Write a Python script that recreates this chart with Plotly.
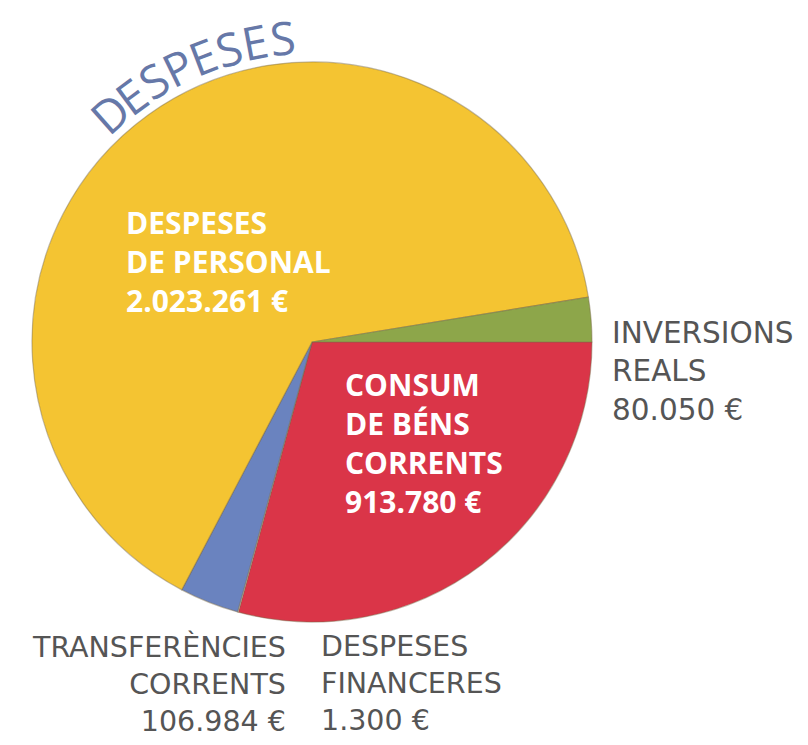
import math
import plotly.graph_objects as go

# ---- data ----
categories = ["CONSUM<br>DE BÉNS<br>CORRENTS", "DESPESES<br>FINANCERES",
              "TRANSFERÈNCIES<br>CORRENTS", "DESPESES<br>DE PERSONAL",
              "INVERSIONS<br>REALS"]
amounts = [913780, 1300, 106984, 2023261, 80050]
colors = ["#DA3548", "#F4F4F4", "#6A83BF", "#F4C432", "#8DA64A"]
title_text = "DESPESES"

W, H = 808, 745

def fmt(v):
    return f"{v:,}".replace(",", ".") + " €"

fig = go.Figure()
fig.add_trace(go.Pie(
    labels=[c.replace("<br>", " ") for c in categories],
    values=amounts,
    sort=False,
    direction="clockwise",
    rotation=90,
    marker=dict(colors=colors, line=dict(color="rgba(120,105,70,0.45)", width=1.2)),
    textinfo="none",
    hoverinfo="label+value",
    showlegend=False,
    domain=dict(x=[32 / W, 592 / W], y=[1 - 622 / H, 1 - 62 / H]),
))

def px(x, y):
    return x / W, 1 - y / H

annotations = []
# label placement: (index, x_px, y_px, xanchor, align, color, family, weight, size)
placements = [
    (3, 124, 200, "left", "left", "white", "Open Sans", 700, 30),
    (0, 343, 362, "left", "left", "white", "Open Sans", 700, 30),
    (4, 610, 314, "left", "left", "#555555", "DejaVu Sans", 400, 29.5),
    (2, 288, 628, "right", "right", "#555555", "DejaVu Sans", 400, 28.5),
    (1, 319, 628, "left", "left", "#555555", "DejaVu Sans", 400, 28.5),
]
for i, x, y, xa, al, col, fam, wt, sz in placements:
    ax, ay = px(x, y)
    annotations.append(dict(
        x=ax, y=ay, xref="paper", yref="paper", xanchor=xa, yanchor="top",
        align=al, showarrow=False,
        text=categories[i] + "<br>" + fmt(amounts[i]),
        font=dict(family=fam, size=sz, color=col, weight=wt),
    ))

# arched title following the pie circle
cx, cy, r = 312, 342, 306
a0, a1 = -41.5, -5.5
n = len(title_text)
for k, ch in enumerate(title_text):
    ang = a0 + (a1 - a0) * k / (n - 1)
    rad = math.radians(ang)
    x = cx + r * math.sin(rad)
    y = cy - r * math.cos(rad)
    ax, ay = px(x, y)
    annotations.append(dict(
        x=ax, y=ay, xref="paper", yref="paper", xanchor="center", yanchor="middle",
        showarrow=False, text=ch, textangle=ang,
        font=dict(family="Open Sans", size=46, color="#6678A8"),
    ))

fig.update_layout(
    width=W, height=H,
    margin=dict(l=0, r=0, t=0, b=0),
    paper_bgcolor="white", plot_bgcolor="white",
    annotations=annotations,
)
fig.write_html("out.html", config={"displayModeBar": False},
               post_script="document.body.style.margin='0';document.body.style.padding='0';")
